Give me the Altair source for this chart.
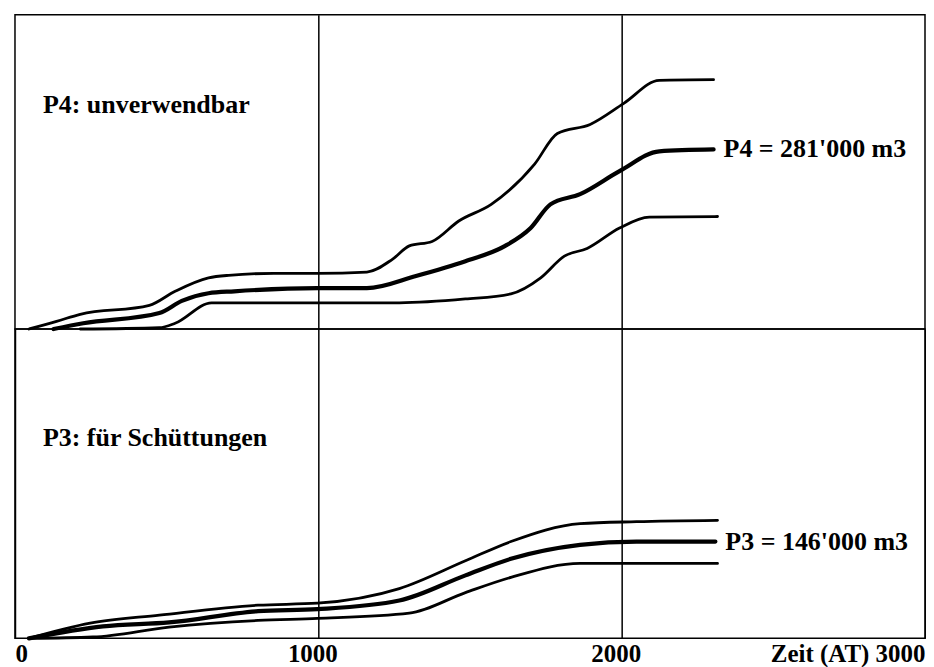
import altair as alt
import pandas as pd

# ---- data (time in AT, volume in 1000 m3) ----
p4_upper_t = [46, 137, 215, 443, 528, 638, 704, 853, 997, 1160, 1244, 1300, 1375, 1463, 1570, 1713, 1788, 1896, 2007, 2124, 2303]
p4_upper_v = [0, 12, 23, 37, 59, 80, 84, 87, 87, 89, 109, 130, 137, 169, 195, 258, 306, 320, 353, 389, 390]

p4_mid_t = [127, 225, 476, 550, 638, 723, 997, 1160, 1322, 1485, 1616, 1700, 1765, 1863, 1993, 2124, 2303]
p4_mid_v = [0, 9, 25, 44, 56, 59, 64, 64, 83, 106, 130, 158, 195, 211, 247, 278, 281]

p4_lower_t = [215, 476, 528, 648, 997, 1267, 1485, 1635, 1733, 1811, 1886, 1993, 2091, 2316]
p4_lower_v = [0, 2, 9, 41, 41, 41, 47, 55, 80, 114, 126, 158, 175, 176]

p3_upper_t = [46, 248, 476, 801, 997, 1267, 1485, 1635, 1863, 2049, 2316]
p3_upper_v = [0, 23, 35, 50, 53, 75, 117, 146, 173, 176, 178]

p3_mid_t = [46, 290, 508, 801, 997, 1267, 1485, 1635, 1863, 2049, 2309]
p3_mid_v = [0, 18, 24, 41, 44, 57, 95, 120, 141, 146, 146]

p3_lower_t = [46, 257, 508, 801, 997, 1300, 1485, 1635, 1863, 2049, 2316]
p3_lower_v = [0, 2, 17, 27, 30, 38, 69, 92, 113, 113, 113]

x_ticks = [0, 1000, 2000, 3000]
p4_title = "P4: unverwendbar"
p3_title = "P3: für Schüttungen"
p4_label = "P4 = 281'000 m3"
p3_label = "P3 = 146'000 m3"


def frame(series):
    rows = []
    for name, ts, vs in series:
        for t, v in zip(ts, vs):
            rows.append({"t": t, "v": v, "s": name})
    return pd.DataFrame(rows)


df4_out = frame([("upper", p4_upper_t, p4_upper_v), ("lower", p4_lower_t, p4_lower_v)])
df4_mid = frame([("mid", p4_mid_t, p4_mid_v)])
df3_out = frame([("upper", p3_upper_t, p3_upper_v), ("lower", p3_lower_t, p3_lower_v)])
df3_mid = frame([("mid", p3_mid_t, p3_mid_v)])

FONT = "Liberation Serif"
W = 912


def panel(df_out, df_mid, ymax, height, title, title_y, end_label, show_labels):
    if show_labels:
        xaxis = alt.Axis(values=x_ticks, grid=True, gridColor="black", gridOpacity=1, gridWidth=1.5,
                         domain=False, ticks=False, title=None,
                         labelFont=FONT, labelFontWeight="bold", labelFontSize=25, labelColor="black",
                         labelPadding=3, labelFlush=True,
                         labelOffset={"condition": {"test": "datum.value == 1000 || datum.value == 2000", "value": -6},
                                      "value": 0},
                         labelExpr="datum.value == 3000 ? 'Zeit (AT) 3000' : datum.label",
                         format="d")
    else:
        xaxis = alt.Axis(values=[1000, 2000], grid=True, gridColor="black", gridOpacity=1, gridWidth=1.5,
                         domain=False, ticks=False, labels=False, title=None, minExtent=0, maxExtent=0)
    x = alt.X("t:Q", scale=alt.Scale(domain=[0, 3000], nice=False, zero=False), axis=xaxis)
    y = alt.Y("v:Q", scale=alt.Scale(domain=[0, ymax], nice=False), axis=None)

    outer = alt.Chart(df_out).mark_line(color="black", strokeWidth=2.8, strokeCap="round",
                                        strokeJoin="round", interpolate="monotone").encode(
        x=x, y=y, detail="s:N", order="t:Q")
    mid = alt.Chart(df_mid).mark_line(color="black", strokeWidth=4.2, strokeCap="round",
                                      strokeJoin="round", interpolate="monotone").encode(
        x=alt.X("t:Q"), y=alt.Y("v:Q"), order="t:Q")
    last = df_mid.iloc[[-1]].assign(txt=end_label)
    end = alt.Chart(last).mark_text(align="left", baseline="middle", dx=10, font=FONT, fontWeight="bold",
                                    fontSize=26, color="black").encode(x=alt.X("t:Q"), y=alt.Y("v:Q"), text="txt:N")
    ttl_df = pd.DataFrame({"txt": [title]})
    ttl = alt.Chart(ttl_df).mark_text(align="left", baseline="alphabetic", font=FONT, fontWeight="bold",
                                      fontSize=26, color="black").encode(
        x=alt.value(28), y=alt.value(title_y), text="txt:N")
    return alt.layer(outer, mid, end, ttl).properties(width=W, height=height)


top = panel(df4_out, df4_mid, 491.7, 315, p4_title, 99, p4_label, False)
bottom = panel(df3_out, df3_mid, 466.6, 310, p3_title, 117, p3_label, True)

chart = alt.vconcat(top, bottom, spacing=0, bounds="flush").properties(
    padding={"left": 6, "top": 5, "right": 0, "bottom": 0},
    background="white",
).configure_view(stroke="black", strokeWidth=1.5).configure_concat(spacing=0)

chart.save("out.html", embed_options={"renderer": "svg", "actions": False})
